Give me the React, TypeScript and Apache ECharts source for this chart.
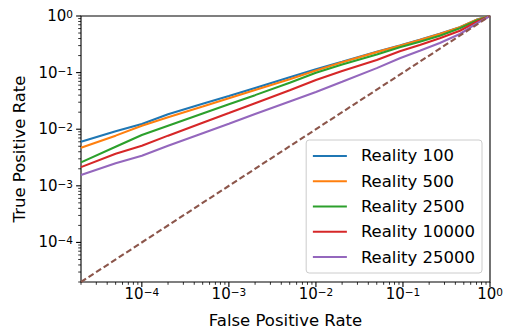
import React, { useEffect, useRef } from 'react';
import * as echarts from 'echarts';

// False positive rate sample points (x)
const FPR = [2e-5, 5e-5, 1e-4, 2e-4, 5e-4, 1e-3, 2e-3, 5e-3, 1e-2, 2e-2, 5e-2, 0.092, 0.156, 0.265, 0.451, 0.703, 1];
// True positive rate for each series (y)
const TPR_100 = [6.0e-3, 9.2e-3, 1.24e-2, 1.83e-2, 2.81e-2, 3.87e-2, 5.37e-2, 8.3e-2, 0.115, 0.156, 0.234, 0.302, 0.38, 0.484, 0.635, 0.864, 1];
const TPR_500 = [4.7e-3, 7.7e-3, 1.15e-2, 1.62e-2, 2.51e-2, 3.52e-2, 4.92e-2, 7.6e-2, 0.109, 0.153, 0.23, 0.299, 0.377, 0.481, 0.632, 0.862, 1];
const TPR_2500 = [2.6e-3, 4.9e-3, 7.9e-3, 1.15e-2, 1.89e-2, 2.75e-2, 4.0e-2, 6.6e-2, 0.099, 0.139, 0.209, 0.28, 0.352, 0.449, 0.607, 0.835, 1];
const TPR_10000 = [2.14e-3, 3.7e-3, 5.1e-3, 7.7e-3, 1.3e-2, 1.93e-2, 2.88e-2, 4.86e-2, 0.074, 0.107, 0.167, 0.238, 0.308, 0.404, 0.55, 0.79, 1];
const TPR_25000 = [1.56e-3, 2.5e-3, 3.4e-3, 5.1e-3, 8.5e-3, 1.25e-2, 1.86e-2, 3.1e-2, 0.0453, 0.0687, 0.12, 0.179, 0.244, 0.334, 0.481, 0.74, 1];

const SERIES_NAMES = ['Reality 100', 'Reality 500', 'Reality 2500', 'Reality 10000', 'Reality 25000'];
const SERIES_VALUES = [TPR_100, TPR_500, TPR_2500, TPR_10000, TPR_25000];
const COLORS = ['#1f77b4', '#ff7f0e', '#2ca02c', '#d62728', '#9467bd'];
const CHANCE_COLOR = '#8c564b';
const CHANCE_X = [2e-5, 1];
const CHANCE_Y = [2e-5, 1];

const AXIS_MIN = 2e-5;
const AXIS_MAX = 1;
const MAJOR_TICKS = [1e-4, 1e-3, 1e-2, 1e-1, 1];
const DECADES = [1e-5, 1e-4, 1e-3, 1e-2, 1e-1];
const MINOR_MULTS = [2, 3, 4, 5, 6, 7, 8, 9];

const FONT = 'DejaVu Sans';

export default function App() {
  const ref = useRef<HTMLDivElement>(null);
  useEffect(() => {
    document.body.style.margin = '0';
    const chart = echarts.init(ref.current!, null, { renderer: 'svg' });

    const minor: number[] = [];
    DECADES.forEach((d) => MINOR_MULTS.forEach((m) => {
      const v = d * m;
      if (v >= AXIS_MIN * 0.999 && v <= AXIS_MAX) minor.push(v);
    }));
    // kind: 0 x-major, 1 x-minor, 2 y-major, 3 y-minor
    const tickData: number[][] = [];
    MAJOR_TICKS.forEach((v) => tickData.push([v, AXIS_MIN, 0]));
    minor.forEach((v) => tickData.push([v, AXIS_MIN, 1]));
    MAJOR_TICKS.forEach((v) => tickData.push([AXIS_MIN, v, 2]));
    minor.forEach((v) => tickData.push([AXIS_MIN, v, 3]));

    const fmt = (v: number) => {
      const l = Math.log10(v);
      const r = Math.round(l);
      if (Math.abs(l - r) > 1e-6) return '';
      const e = r < 0 ? '\u2212' + Math.abs(r) : String(r);
      return '{b|10}{s|' + e + '}';
    };
    const rich = {
      b: { fontFamily: FONT, fontSize: 15, lineHeight: 15, verticalAlign: 'bottom', color: '#000' },
      s: { fontFamily: FONT, fontSize: 10.5, lineHeight: 12, verticalAlign: 'top', color: '#000', padding: [0, 0, 7, 0] },
    };

    const lineSeries = SERIES_NAMES.map((name, i) => ({
      name,
      type: 'line',
      data: FPR.map((x, j) => [x, SERIES_VALUES[i][j]]),
      showSymbol: false,
      symbol: 'none',
      lineStyle: { color: COLORS[i], width: 2.1 },
      itemStyle: { color: COLORS[i] },
      z: 2,
    }));

    chart.setOption({
      animation: false,
      grid: {
        left: 81, right: 15, top: 16, bottom: 46,
        outerBoundsMode: 'none',
        containLabel: false,
        show: true, borderColor: '#000', borderWidth: 1.1, backgroundColor: 'transparent',
      },
      xAxis: {
        type: 'log', logBase: 10, min: AXIS_MIN, max: AXIS_MAX,
        axisLine: { show: false }, axisTick: { show: false }, splitLine: { show: false },
        axisLabel: { interval: 0, margin: 4, formatter: fmt, rich },
        name: 'False Positive Rate', nameLocation: 'middle', nameGap: 32,
        nameTextStyle: { fontFamily: FONT, fontSize: 16.5, color: '#000', lineHeight: 12 },
      },
      yAxis: {
        type: 'log', logBase: 10, min: AXIS_MIN, max: AXIS_MAX,
        axisLine: { show: false }, axisTick: { show: false }, splitLine: { show: false },
        axisLabel: { interval: 0, margin: 8, formatter: fmt, rich },
        name: 'True Positive Rate', nameLocation: 'middle', nameGap: 50,
        nameTextStyle: { fontFamily: FONT, fontSize: 16.5, color: '#000' },
      },
      legend: {
        data: SERIES_NAMES,
        orient: 'vertical', right: 23, bottom: 55,
        icon: 'rect', itemWidth: 34, itemHeight: 2, itemGap: 8.3,
        padding: [7.4, 7, 7.4, 6.7],
        backgroundColor: 'rgba(255,255,255,0.8)', borderColor: '#cccccc', borderWidth: 1, borderRadius: 3,
        itemStyle: { borderWidth: 0 },
        textStyle: { fontFamily: FONT, fontSize: 16.5, color: '#000', lineHeight: 16, padding: [0, 0, 0, 9] },
        selectedMode: false,
      },
      series: [
        ...lineSeries,
        {
          name: 'chance', type: 'line',
          data: CHANCE_X.map((x, j) => [x, CHANCE_Y[j]]),
          showSymbol: false, symbol: 'none',
          lineStyle: { color: CHANCE_COLOR, width: 2.1, type: [6, 3] },
          z: 3,
        },
        {
          name: 'ticks', type: 'custom', silent: true, clip: false, z: 5,
          data: tickData,
          renderItem: (params: any, api: any) => {
            const x = api.value(0), y = api.value(1), kind = api.value(2);
            const p = api.coord([x, y]);
            const major = kind === 0 || kind === 2;
            const len = major ? 4.9 : 2.8;
            const w = major ? 1.1 : 0.8;
            const shape = kind < 2
              ? { x1: p[0], y1: p[1], x2: p[0], y2: p[1] + len }
              : { x1: p[0] - len, y1: p[1], x2: p[0], y2: p[1] };
            return { type: 'line', shape, style: { stroke: '#000', lineWidth: w } };
          },
        },
      ],
    });
    return () => chart.dispose();
  }, []);
  return <div ref={ref} style={{ width: 505, height: 328 }} />;
}
